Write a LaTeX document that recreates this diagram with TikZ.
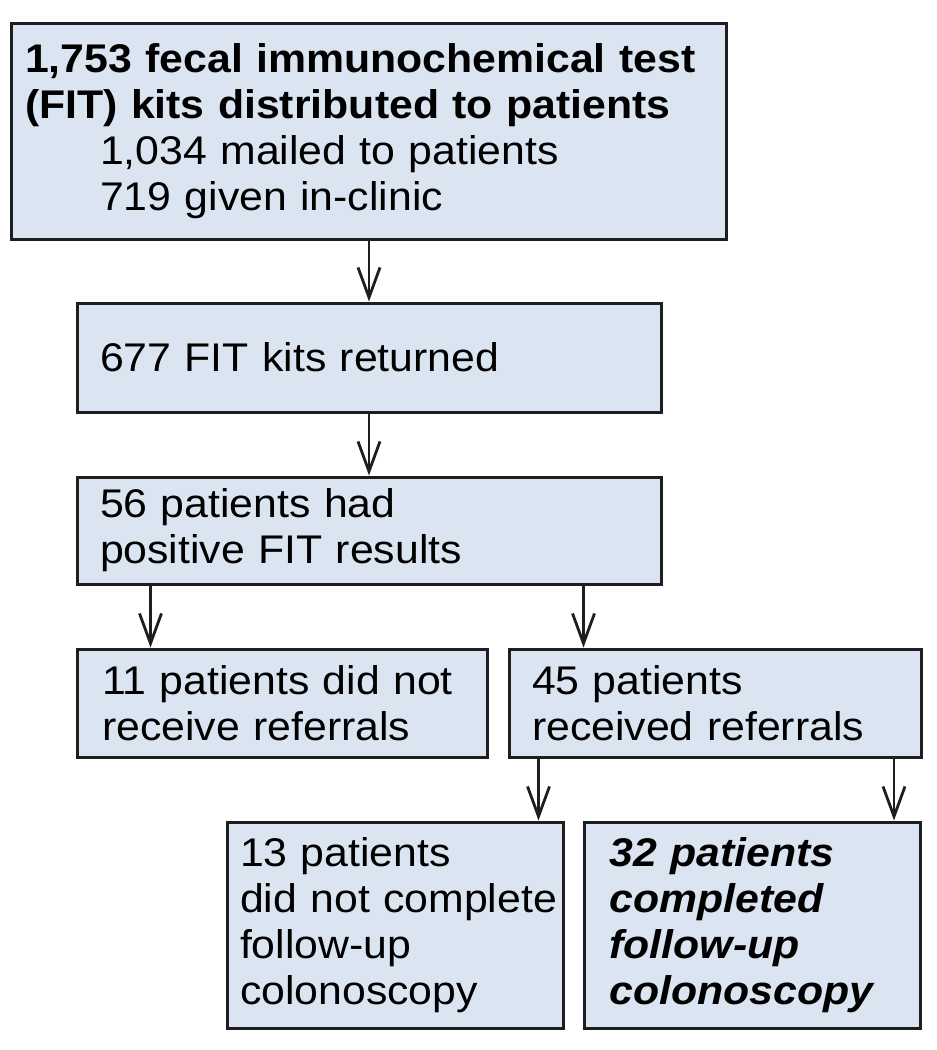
\documentclass[tikz,border=0pt]{standalone}
\usepackage{fontspec}
\newfontfamily\boxfont{Liberation Sans}[FakeStretch=1.07]
\usetikzlibrary{arrows.meta}
\definecolor{boxfill}{RGB}{219,229,241}
\definecolor{boxline}{RGB}{30,30,32}
\tikzset{
flowbox/.style={draw=boxline, fill=boxfill, line width=3pt, inner xsep=0pt, inner ysep=0pt, align=left, font=\boxfont\fontsize{40}{46}\selectfont},
flowarrow/.style={draw=boxline, line width=2.8pt, -{Straight Barb[length=30pt,width=22pt,line width=2.8pt]}}
}
\begin{document}
\begin{tikzpicture}
[x=1pt,y=-1pt]
\useasboundingbox (0,0) rectangle (937,1050);
\node [flowbox, text width=715pt, minimum height=216pt] (kits) at (368.5,131) {\leftskip=14pt\relax\textbf{1,753 fecal immunochemical test}\\\textbf{(FIT) kits distributed to patients}\\\hspace*{75pt}1,034 mailed to patients\\\hspace*{75pt}719 given in-clinic\par};
\node [flowbox, text width=584pt, minimum height=109pt] (returned) at (369,357.5) {\leftskip=23pt\relax 677 FIT kits returned\par};
\node [flowbox, text width=584pt, minimum height=107pt] (positive) at (369,530.5) {\leftskip=23pt\relax 56 patients had\\positive FIT results\par};
\node [flowbox, text width=410pt, minimum height=108pt] (noref) at (282,703) {\leftskip=25pt\relax 11 patients did not\\receive referrals\par};
\node [flowbox, text width=412pt, minimum height=108pt] (referred) at (715,703) {\leftskip=23pt\relax 45 patients\\received referrals\par};
\node [flowbox, text width=336pt, minimum height=206pt] (notdone) at (395,925) {\leftskip=13pt\relax 13 patients\\did not complete\\follow-up\\colonoscopy\par};
\node [flowbox, text width=336pt, minimum height=206pt] (done) at (752.5,925) {\leftskip=25pt\relax\textbf{\textit{32 patients}}\\\textbf{\textit{completed}}\\\textbf{\textit{follow-up}}\\\textbf{\textit{colonoscopy}}\par};
\coordinate (toleft) at ([xshift=75pt]noref.north west);
\coordinate (toright) at ([xshift=76pt]referred.north west);
\coordinate (tonot) at ([xshift=-26pt]notdone.north east);
\coordinate (todone) at ([xshift=-28pt]done.north east);
\draw [flowarrow] (kits.south -| returned.north) -- (returned.north);
\draw [flowarrow] (returned.south) -- (positive.north);
\draw [flowarrow] (toleft |- positive.south) -- (toleft);
\draw [flowarrow] (toright |- positive.south) -- (toright);
\draw [flowarrow] (tonot |- referred.south) -- (tonot);
\draw [flowarrow] (todone |- referred.south) -- (todone);
\end{tikzpicture}
\end{document}
